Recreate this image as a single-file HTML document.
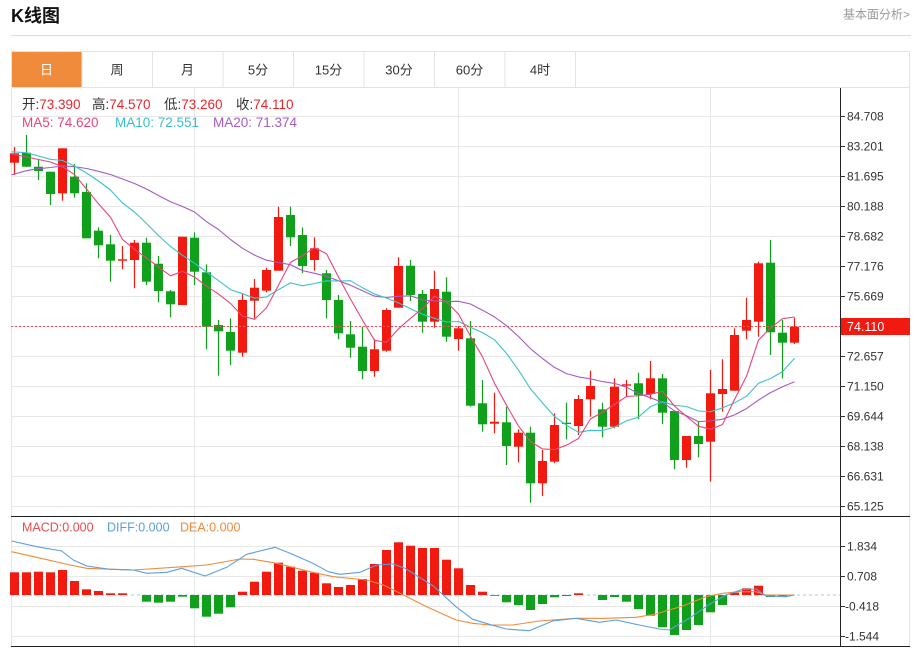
<!DOCTYPE html>
<html><head><meta charset="utf-8">
<style>
html,body{margin:0;padding:0;background:#fff;}
body{width:916px;height:649px;overflow:hidden;position:relative;font-family:"Liberation Sans","Noto Sans CJK SC",sans-serif;}
svg{position:absolute;left:0;top:0;}
</style></head>
<body>
<svg id="s" width="916" height="649" xmlns="http://www.w3.org/2000/svg" font-family="'Liberation Sans','Noto Sans CJK SC',sans-serif">
<!-- header -->
<text x="11" y="22" font-size="18" font-weight="bold" fill="#111">K线图</text>
<text x="910" y="18.5" font-size="12" fill="#999" text-anchor="end">基本面分析&gt;</text>
<line x1="11" y1="35.5" x2="911" y2="35.5" stroke="#dcdcdc"/>
<!-- tabs -->
<rect x="11.5" y="51.5" width="898" height="36" fill="#fff" stroke="#e3e3e3"/>
<rect x="12" y="52" width="70" height="35" fill="#f08b3c"/>
<g stroke="#e3e3e3" shape-rendering="crispEdges">
<line x1="82" y1="52" x2="82" y2="87"/><line x1="152.5" y1="52" x2="152.5" y2="87"/>
<line x1="223" y1="52" x2="223" y2="87"/><line x1="293.5" y1="52" x2="293.5" y2="87"/>
<line x1="364" y1="52" x2="364" y2="87"/><line x1="434.5" y1="52" x2="434.5" y2="87"/>
<line x1="505" y1="52" x2="505" y2="87"/><line x1="575.5" y1="52" x2="575.5" y2="87"/>
</g>
<g font-size="13" fill="#333" text-anchor="middle">
<text x="46.5" y="74.5" fill="#fff">日</text>
<text x="117" y="74.5">周</text>
<text x="187.5" y="74.5">月</text>
<text x="258" y="74.5">5分</text>
<text x="328.5" y="74.5">15分</text>
<text x="399" y="74.5">30分</text>
<text x="469.5" y="74.5">60分</text>
<text x="540" y="74.5">4时</text>
</g>
<!-- chart frame -->
<g stroke="#e4e4e4" shape-rendering="crispEdges">
<line x1="11.5" y1="87" x2="11.5" y2="646"/>
<line x1="909.5" y1="87" x2="909.5" y2="646"/>
</g>
<!-- grid -->
<g stroke="#e8e8e8" shape-rendering="crispEdges">
<line x1="11" y1="116.5" x2="840" y2="116.5"/><line x1="11" y1="146.5" x2="840" y2="146.5"/>
<line x1="11" y1="176.5" x2="840" y2="176.5"/><line x1="11" y1="206.5" x2="840" y2="206.5"/>
<line x1="11" y1="236.5" x2="840" y2="236.5"/><line x1="11" y1="266.5" x2="840" y2="266.5"/>
<line x1="11" y1="296.5" x2="840" y2="296.5"/><line x1="11" y1="326.5" x2="840" y2="326.5"/>
<line x1="11" y1="356.5" x2="840" y2="356.5"/><line x1="11" y1="386.5" x2="840" y2="386.5"/>
<line x1="11" y1="416.5" x2="840" y2="416.5"/><line x1="11" y1="446.5" x2="840" y2="446.5"/>
<line x1="11" y1="476.5" x2="840" y2="476.5"/><line x1="11" y1="506.5" x2="840" y2="506.5"/>
<line x1="11" y1="546.5" x2="840" y2="546.5"/><line x1="11" y1="576.5" x2="840" y2="576.5"/>
<line x1="11" y1="606.5" x2="840" y2="606.5"/><line x1="11" y1="636.5" x2="840" y2="636.5"/>
<line x1="194.5" y1="88" x2="194.5" y2="646"/>
<line x1="458.5" y1="88" x2="458.5" y2="646"/>
<line x1="710.5" y1="88" x2="710.5" y2="646"/>
</g>
<!-- macd zero line -->
<line x1="11" y1="595" x2="840" y2="595" stroke="#a9cde3" stroke-dasharray="3,3"/>
<g id="candles"></g>
<g id="ma"></g>
<g id="macd"></g>
<!-- current price dashed line -->
<line x1="11" y1="326.5" x2="840" y2="326.5" stroke="#f0505a" stroke-dasharray="2,2"/>
<!-- separators -->
<g stroke="#222" shape-rendering="crispEdges">
<line x1="11" y1="516.5" x2="910" y2="516.5"/>
<line x1="11" y1="646.5" x2="910" y2="646.5"/>
<line x1="840.5" y1="88" x2="840.5" y2="647"/>
</g>
<!-- ticks -->
<g stroke="#333" shape-rendering="crispEdges">
<line x1="840" y1="116.5" x2="845" y2="116.5"/><line x1="840" y1="146.5" x2="845" y2="146.5"/>
<line x1="840" y1="176.5" x2="845" y2="176.5"/><line x1="840" y1="206.5" x2="845" y2="206.5"/>
<line x1="840" y1="236.5" x2="845" y2="236.5"/><line x1="840" y1="266.5" x2="845" y2="266.5"/>
<line x1="840" y1="296.5" x2="845" y2="296.5"/>
<line x1="840" y1="356.5" x2="845" y2="356.5"/><line x1="840" y1="386.5" x2="845" y2="386.5"/>
<line x1="840" y1="416.5" x2="845" y2="416.5"/><line x1="840" y1="446.5" x2="845" y2="446.5"/>
<line x1="840" y1="476.5" x2="845" y2="476.5"/><line x1="840" y1="506.5" x2="845" y2="506.5"/>
<line x1="840" y1="546.5" x2="845" y2="546.5"/><line x1="840" y1="576.5" x2="845" y2="576.5"/>
<line x1="840" y1="606.5" x2="845" y2="606.5"/><line x1="840" y1="636.5" x2="845" y2="636.5"/>
</g>
<g font-size="12" fill="#333">
<text x="847" y="120.5">84.708</text><text x="847" y="150.5">83.201</text>
<text x="847" y="180.5">81.695</text><text x="847" y="210.5">80.188</text>
<text x="847" y="240.5">78.682</text><text x="847" y="270.5">77.176</text>
<text x="847" y="300.5">75.669</text>
<text x="847" y="360.5">72.657</text><text x="847" y="390.5">71.150</text>
<text x="847" y="420.5">69.644</text><text x="847" y="450.5">68.138</text>
<text x="847" y="480.5">66.631</text><text x="847" y="510.5">65.125</text>
<text x="847" y="550.5">1.834</text><text x="847" y="580.5">0.708</text>
<text x="845" y="610.5">-0.418</text><text x="845" y="640.5">-1.544</text>
</g>
<rect x="841" y="318" width="69" height="17" fill="#f01a10"/>
<text x="847" y="331" font-size="12.5" fill="#fff">74.110</text>
<!-- legends -->
<g font-size="13.5">
<text x="22" y="109"><tspan fill="#333">开:</tspan><tspan fill="#e8262b">73.390</tspan></text>
<text x="92" y="109"><tspan fill="#333">高:</tspan><tspan fill="#e8262b">74.570</tspan></text>
<text x="164" y="109"><tspan fill="#333">低:</tspan><tspan fill="#e8262b">73.260</tspan></text>
<text x="236" y="109"><tspan fill="#333">收:</tspan><tspan fill="#e8262b">74.110</tspan></text>
<text x="22" y="127" fill="#e6457d">MA5: 74.620</text>
<text x="115" y="127" fill="#36bfc9">MA10: 72.551</text>
<text x="213" y="127" fill="#a45bc2">MA20: 71.374</text>
</g>
<g font-size="12.5">
<text x="22" y="531.5" fill="#e84c4c">MACD:0.000</text>
<text x="107" y="531.5" fill="#5b9fe0">DIFF:0.000</text>
<text x="180" y="531.5" fill="#f08a3a">DEA:0.000</text>
</g>
</svg>
<script>
(function(){
var NS="http://www.w3.org/2000/svg";
function el(t,a,p){var e=document.createElementNS(NS,t);for(var k in a)e.setAttribute(k,a[k]);p.appendChild(e);return e;}
var R="#f01a10",G="#10a01c";
var D=[
['r',153.3,162.7,147,175],['g',152.7,166.7,135,167],['g',166.7,171,159,180],['g',171.7,194,171.7,205],
['r',148.3,193.3,148.3,200.7],['g',176.7,193.3,164,197.7],['g',192,238.3,183.3,238.3],['g',230.7,245.3,227.3,258.3],
['g',244.3,260.7,235,281.7],['r',259.3,260.7,246,269.3],['r',242.7,260,240,288.3],['g',242.7,281.7,237.7,285],
['g',263.7,291,256,302.3],['g',291.3,304.3,290,317.3],['r',236.7,305,236.7,305],['g',237.7,271.7,232.3,285],
['g',272.3,326.7,264.3,349.3],['g',325,331.3,320,375.7],['g',332,350.7,318.3,365],['r',300,352.7,293.3,356.7],
['r',287.7,300.7,279,318.3],['r',270,290.7,267.7,292.3],['r',217,270.7,206.7,270.7],['g',215,237.3,206.7,246],
['g',235,266,227.5,273],['r',248.3,260,237.3,270.7],['g',273.3,300,270,318.3],['g',300,333.3,295,339.3],
['g',334.3,347.7,321,357.7],['g',346.7,371,326.7,379.3],['r',349.3,371,339.3,376.7],['r',310,350.7,308.3,351.7],
['r',266,307.7,257.3,307.7],['g',265.7,295,260,301],['g',294,321.7,290,332.7],['r',289,321.7,270.7,327.7],
['g',291.7,336.7,277.3,341.7],['r',328.3,339,326,350.7],['g',338.3,405.7,321,406.7],['g',403.3,424.3,380,431.7],
['r',421.7,423.7,392.7,433.3],['g',422.3,446,406.7,465],['r',432.7,446.7,429.3,462.3],['g',432.7,483.3,426.7,502.7],
['r',461,483.3,450,496],['r',425,461.7,413.3,463.3],['g',422.7,424,402.7,439.3],['r',399,426,395,435],
['r',386,399.3,370.7,416.7],['g',409.3,426.7,402.7,437.3],['r',386.7,426.7,378.3,428.3],['r',384.3,385.7,380,396.7],
['g',383.3,395,372.7,419],['r',378.3,394,361,399.3],['g',378.3,412.7,374,424],['g',411,460,411,469.3],
['r',436,460,436,467.7],['g',436,444,421.7,457.3],['r',393.3,441.7,370,481.7],['r',389,394,359.3,411.7],
['r',335,390.7,328.3,390.7],['r',320,330.7,297.7,339.3],['r',263.3,321.7,261.7,336.7],['g',262.7,332.3,240,355],
['g',332.7,342.7,320,378.3],['r',326.7,342.7,317.7,344]
];
function X(i){return 14.5+12*i;}
var cg=document.getElementById('candles'),closes=[];
for(var i=0;i<D.length;i++){
 var d=D[i],x=X(i),c=d[0]=='r'?R:G;
 el('line',{x1:x,x2:x,y1:d[3],y2:d[4],stroke:c,'stroke-width':1.2},cg);
 el('rect',{x:x-4.5,y:d[1],width:9,height:Math.max(d[2]-d[1],1.3),fill:c},cg);
 closes.push(d[0]=='r'?d[1]:d[2]);
}
function ma(n,ov){var p=[];for(var i=0;i<D.length;i++){var v;if(i<n-1)v=ov[i];else{var s=0;for(var j=i-n+1;j<=i;j++)s+=closes[j];v=s/n;}p.push([X(i),v]);}
 p.unshift([11.5,p[0][1]-(p[1][1]-p[0][1])*3/12]);return p;}
function poly(p,c,g,w){el('polyline',{points:p.map(function(q){return q[0].toFixed(1)+','+q[1].toFixed(1);}).join(' '),fill:'none',stroke:c,'stroke-width':w||1.1,'stroke-linejoin':'round'},g);}
var mg=document.getElementById('ma');
poly(ma(20,[174,170.7,168.7,167.5,166,166.7,168.5,171.3,174.5,179,183.5,189,195.5,201.7,206.5,212,221.7,229.5,239.5]),'#a45bc2',mg);
poly(ma(10,[152,152.7,156,159.3,160.5,166,173,181,190]),'#3cc2cc',mg);
poly(ma(5,[154.5,157,159.5,162]),'#e6457d',mg);
var M=[572.3,572.3,571.7,572.3,570,581,589.3,591,593.3,593.3,594.5,601.7,602.7,601.7,596.7,608.3,616.7,613.7,607.3,591.7,
581.7,571.7,562.7,566.7,570.7,572.7,583.3,587,585,579,564,550,542.3,545.7,548,548,559.7,568.3,585,591.7,
595.8,602.3,605,610,604,597.3,596,593.3,595,600,597,601.7,609,615.7,627.3,635,630,625,612.3,605,
592.7,588.3,585.7,597,596.3,595];
var bg=document.getElementById('macd');
for(var i=0;i<M.length;i++){var y=M[i],x=X(i);if(Math.abs(y-595)<0.6)continue;
 if(y<595)el('rect',{x:x-4.5,y:y,width:9,height:595-y,fill:R},bg);
 else el('rect',{x:x-4.5,y:595,width:9,height:y-595,fill:G},bg);}
var DIFF=[[11.5,541],[36.7,546.7],[61.7,551],[73.3,560],[86.7,566],[110,569.3],[133.3,570],[146.7,573.3],[166.7,572.3],[181.7,568.3],[205,576],[226.7,567.3],[246.7,554.3],[275,547.3],[290,553.3],[311.7,562.7],[328.3,571.7],[340,574.3],[360,572.3],[376.7,565],[393.3,564],[405,568.3],[433.3,586],[456,606.7],[472.7,619.3],[489.3,624.3],[506,629],[529.3,630.7],[552.7,621],[576,618.3],[599.3,622.3],[616,620],[639.3,625],[659.3,629],[669.3,630],[689.3,618.3],[709.3,604.3],[726,595],[742.7,589.3],[756,589],[766,596],[786,596.7],[794.5,595]];
var DEA=[[11.5,551.7],[36.7,557.3],[70,565],[86.7,568.3],[133.3,570],[183.3,566.7],[206.7,565],[240,559],[253.3,559.3],[276.7,563.3],[310,571.7],[333.3,576.7],[366.7,580],[383.3,585],[400,593.3],[426.7,606.7],[456,620],[472.7,623.3],[489.3,625],[512.7,625],[539.3,621],[576,618.3],[606,618.3],[636,617.3],[656,614],[682.7,606],[706,596.7],[722.7,593.3],[739.3,591.7],[756,591.7],[766,595],[794.5,595]];
poly(DEA,'#f08a3a',bg,1.1);
poly(DIFF,'#5b9fe0',bg,1.1);
})();
</script>
</body></html>
